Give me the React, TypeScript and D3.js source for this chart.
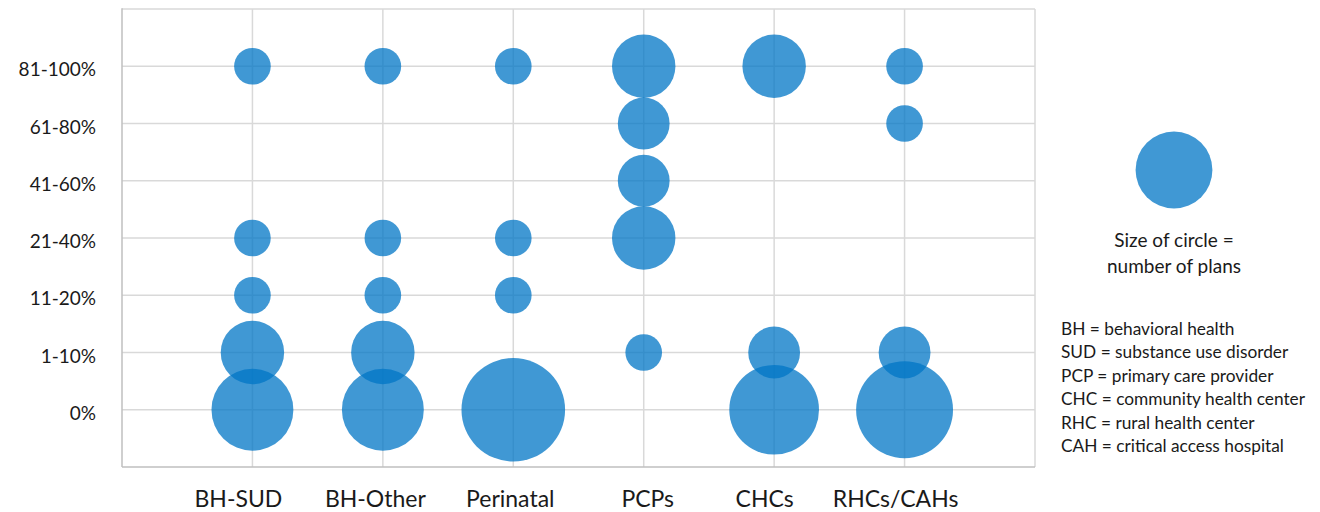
import React from "react";
import * as d3 from "d3";

const categories = ["BH-SUD", "BH-Other", "Perinatal", "PCPs", "CHCs", "RHCs/CAHs"];
const yLabels = ["0%", "1-10%", "11-20%", "21-40%", "41-60%", "61-80%", "81-100%"];
// number of plans per level (index = yLabels index)
const bhSud = [5, 3, 1, 1, 0, 0, 1];
const bhOther = [5, 3, 1, 1, 0, 0, 1];
const perinatal = [8, 0, 1, 1, 0, 0, 1];
const pcps = [0, 1, 0, 3, 2, 2, 3];
const chcs = [6, 2, 0, 0, 0, 0, 3];
const rhcs = [7, 2, 0, 0, 0, 1, 1];
const seriesCounts = [bhSud, bhOther, perinatal, pcps, chcs, rhcs];
const legendValue = 4.4;
const legendTitle = ["Size of circle =", "number of plans"];
const abbreviations = [
  "BH = behavioral health",
  "SUD = substance use disorder",
  "PCP = primary care provider",
  "CHC = community health center",
  "RHC = rural health center",
  "CAH = critical access hospital",
];

// layout: horizontal nudge of each category label (placed by hand in the original)
const labelNudge = [-14, -7.5, -3, 4, -9.5, -9];

const W = 1320;
const H = 512;
const FONT = "Lato, 'Noto Sans', sans-serif";

export default function App() {
  const x = d3.scaleLinear().domain([0, categories.length + 1]).range([122, 1035]);
  const y = d3.scaleLinear().domain([-1, yLabels.length]).range([467, 9]);
  const r = d3.scaleSqrt().domain([0, 8]).range([0, 51.8]);
  const fill = "rgb(0,117,198)";
  const op = 0.75;

  const points: { cx: number; cy: number; v: number; key: string }[] = [];
  seriesCounts.forEach((arr, ci) => {
    arr.forEach((v, li) => {
      if (v > 0) points.push({ cx: x(ci + 1), cy: y(li), v, key: `${ci}-${li}` });
    });
  });

  const hTicks = d3.range(0, yLabels.length + 1);
  const vTicks = d3.range(1, categories.length + 1);

  return (
    <svg width={W} height={H} style={{ position: "absolute", left: 0, top: 0, background: "#fff" }} fontFamily={FONT}>
      {/* gridlines */}
      {hTicks.map((t) => (
        <line key={"h" + t} x1={x(0)} x2={x(categories.length + 1)} y1={y(t)} y2={y(t)} stroke="#d9d9d9" strokeWidth={1.5} />
      ))}
      {vTicks.map((t) => (
        <line key={"v" + t} x1={x(t)} x2={x(t)} y1={y(yLabels.length)} y2={y(-1)} stroke="#d9d9d9" strokeWidth={1.5} />
      ))}
      <line x1={x(categories.length + 1)} x2={x(categories.length + 1)} y1={y(yLabels.length)} y2={y(-1)} stroke="#d9d9d9" strokeWidth={1.5} />
      {/* axes */}
      <line x1={x(0)} x2={x(0)} y1={y(yLabels.length) - 0.75} y2={y(-1)} stroke="#bfbfbf" strokeWidth={1.5} />
      <line x1={x(0)} x2={x(categories.length + 1)} y1={y(-1)} y2={y(-1)} stroke="#bfbfbf" strokeWidth={1.5} />

      {/* bubbles */}
      {points.map((p) => (
        <circle key={p.key} cx={p.cx} cy={p.cy} r={r(p.v)} fill={fill} fillOpacity={op} />
      ))}

      {/* y labels */}
      {yLabels.map((l, i) => (
        <text key={l} x={96} y={y(i) + 10} textAnchor="end" fontSize={19} fill="#1a1a1a">
          {l}
        </text>
      ))}
      {/* x labels */}
      {categories.map((c, i) => (
        <text key={c} x={x(i + 1) + labelNudge[i]} y={507} textAnchor="middle" fontSize={23} fill="#1a1a1a">
          {c}
        </text>
      ))}

      {/* legend */}
      <circle cx={1174} cy={170} r={r(legendValue)} fill={fill} fillOpacity={op} />
      {legendTitle.map((t, i) => (
        <text key={t} x={1174} y={247 + i * 26} textAnchor="middle" fontSize={19} fill="#1a1a1a">
          {t}
        </text>
      ))}
      {abbreviations.map((t, i) => (
        <text key={t} x={1061} y={335 + i * 23.4} fontSize={17.3} fill="#1a1a1a">
          {t}
        </text>
      ))}
    </svg>
  );
}
